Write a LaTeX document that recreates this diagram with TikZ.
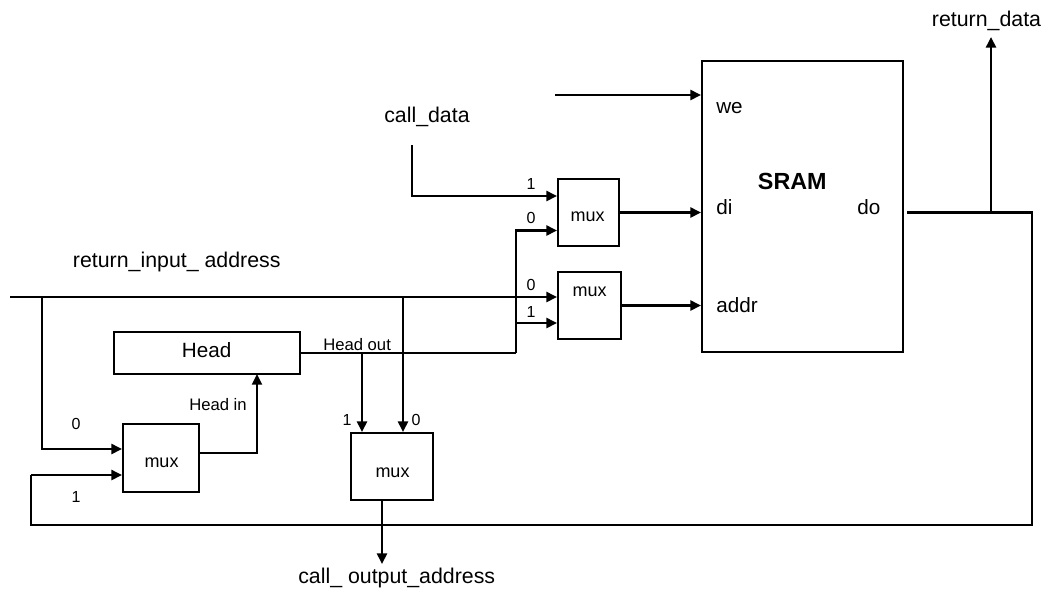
\documentclass[tikz,border=0pt]{standalone}
\usepackage{fontspec}
\setmainfont{Liberation Sans}
\usetikzlibrary{arrows.meta}
\begin{document}
\begin{tikzpicture}[x=0.75pt,y=-0.75pt,
  wire/.style={line width=1.9pt},
  midwire/.style={line width=1.5pt},
  thinwire/.style={line width=1.1pt},
  arr/.style={-{Triangle[length=8pt,width=7.5pt]}},
  blk/.style={draw, line width=1.5pt, rectangle, inner sep=0pt},
  big/.style={inner sep=0pt, font=\fontsize{16}{18}\selectfont},
  port/.style={inner sep=0pt, font=\fontsize{15.5}{17}\selectfont},
  muxtxt/.style={inner sep=0pt, font=\fontsize{13.5}{15}\selectfont},
  small/.style={inner sep=0pt, font=\fontsize{12.5}{14}\selectfont},
  digit/.style={inner sep=0pt, font=\fontsize{12}{13}\selectfont, anchor=base},
]
\useasboundingbox (0,0) rectangle (1044,590);

% blocks
\node[blk, minimum width={201*0.75pt}, minimum height={291*0.75pt}] (sram) at (802.5,206.5) {};
\node[blk, minimum width={61*0.75pt}, minimum height={67*0.75pt}] (mux1) at (588.5,212.5) {};
\node[blk, minimum width={63*0.75pt}, minimum height={67*0.75pt}] (mux2) at (589.5,305.5) {};
\node[blk, minimum width={186*0.75pt}, minimum height={42*0.75pt}] (head) at (207,353) {};
\node[blk, minimum width={76*0.75pt}, minimum height={68*0.75pt}] (mux3) at (161,458) {};
\node[blk, minimum width={82*0.75pt}, minimum height={67*0.75pt}] (mux4) at (392,466.5) {};

% block texts
\node[port, anchor=base west] (tsram) at (757.7,189.3) {\fontsize{17.5}{19}\selectfont\bfseries SRAM};
\node[port, anchor=base west] (twe) at (716,113) {we};
\node[port, anchor=base west] (tdi) at (716,214) {di};
\node[port, anchor=base west] (tdo) at (857,214) {do};
\node[port, anchor=base west] (taddr) at (716,312.3) {addr};
\node[port, anchor=base west] (thead) at (181.7,357) {Head};
\node[muxtxt] (tm1) at (587.5,216.7) {mux};
\node[muxtxt] (tm2) at (589.5,291.7) {mux};
\node[muxtxt] (tm3) at (161.5,463) {mux};
\node[muxtxt] (tm4) at (392.5,473) {mux};

% signal labels
\node[big, anchor=base west] (lcd) at (384,122) {call\_data};
\node[big, anchor=base west] (lria) at (72.7,267) {return\_input\_ address};
\node[big, anchor=base west] (lcoa) at (298,583) {call\_ output\_address};
\node[big, anchor=base west] (lrd) at (931.7,26.5) {return\_data};
\node[small, anchor=base west] (lhout) at (323,350) {Head out};
\node[small, anchor=base west] (lhin) at (189,410) {Head in};

% digit labels
\node[digit] (d11) at (531,189) {1};
\node[digit] (d10) at (531,223) {0};
\node[digit] (d20) at (531,290) {0};
\node[digit] (d21) at (531,317) {1};
\node[digit] (d30) at (76,429) {0};
\node[digit] (d31) at (76,502) {1};
\node[digit] (d41) at (347,425) {1};
\node[digit] (d40) at (416,425) {0};

% coordinates
\coordinate (weS) at (555,95);
\coordinate (cdS) at (412,145);
\coordinate (riS) at (10,297);
\coordinate (jL) at (42,297);
\coordinate (jR) at (403,297);
\coordinate (hoJ) at (362,353);
\coordinate (hoV) at (516,353);
\coordinate (m2J) at (516,323);
\coordinate (m4o) at (382,500);
\coordinate (coaE) at (382,564);
\coordinate (m3o) at (199,453);
\coordinate (hin) at (257,374);
\coordinate (doS) at (907,212.5);
\coordinate (doR) at (1032,212.5);
\coordinate (rdJ) at (991,212.5);
\coordinate (rdE) at (991,37);
\coordinate (fbBR) at (1032,525);
\coordinate (fbBL) at (31,525);
\coordinate (fbUL) at (31,475);

% connectors
\draw[wire,arr] (weS) -- (sram.west |- weS);
\draw[wire,arr] (cdS) |- (mux1.west |- 0,196);
\draw[wire,arr] (hoV) |- (mux1.west |- 0,230.5);
\draw[wire,arr] (m2J) -- (mux2.west |- m2J);
\draw[wire,arr] (riS) -- (mux2.west |- riS);
\draw[wire,arr] (jL) |- (mux3.west |- 0,449);
\draw[wire,arr] (jR) -- (jR |- mux4.north);
\draw[thinwire] (head.east) -- (hoV);
\draw[wire,arr] (hoJ) -- (hoJ |- mux4.north);
\draw[wire,arr] (m4o) -- (coaE);
\draw[midwire,arr] (m3o) -| (hin);
\draw[wire,arr] (mux1.east) -- (sram.west |- mux1.east);
\draw[wire,arr] (mux2.east) -- (sram.west |- mux2.east);
\draw[wire] (doS) -- (doR) -- (fbBR) -- (fbBL) -- (fbUL);
\draw[wire,arr] (fbUL) -- (mux3.west |- fbUL);
\draw[wire,arr] (rdJ) -- (rdE);
\end{tikzpicture}
\end{document}
